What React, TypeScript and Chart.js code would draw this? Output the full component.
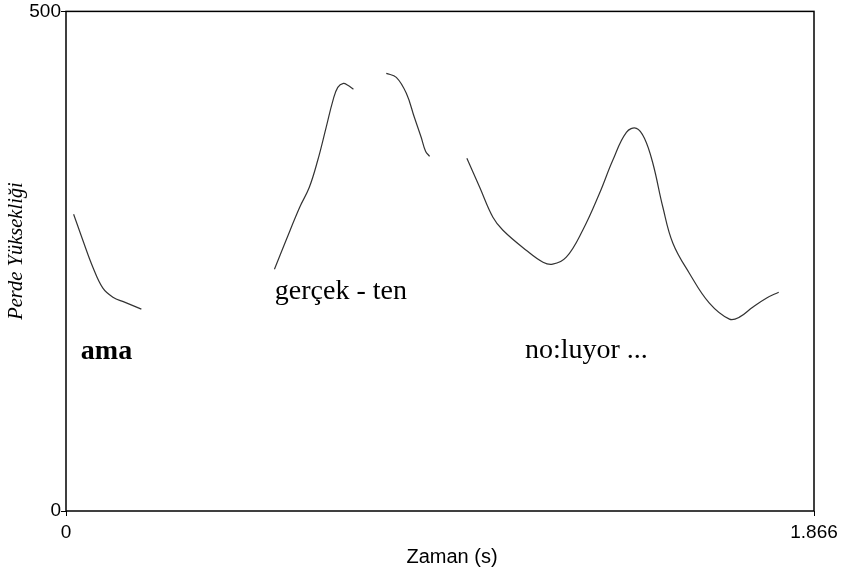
import React, { useEffect, useRef } from "react";
import { Chart, registerables } from "chart.js";

Chart.register(...registerables);

// Axis ranges and ticks
const X_MAX = 1.866;
const Y_MAX = 500;
const X_TICKS = [0, 1.866];
const Y_TICKS = [0, 500];

// Pitch contour segments (time in s, pitch in Hz)
const AMA_T = [0.019, 0.042, 0.067, 0.092, 0.117, 0.146, 0.188];
const AMA_HZ = [297, 271, 244, 223, 214, 209, 202];

const GERCEK_T = [0.520, 0.549, 0.583, 0.607, 0.628, 0.649, 0.666, 0.678, 0.692, 0.703, 0.717];
const GERCEK_HZ = [242, 271, 304, 324, 351, 384, 411, 424, 428, 426, 422];

const TEN_T = [0.799, 0.824, 0.849, 0.869, 0.886, 0.897, 0.907];
const TEN_HZ = [438, 434, 418, 394, 374, 360, 355];

const NOLUYOR_T = [1.000, 1.032, 1.065, 1.090, 1.148, 1.190, 1.214, 1.248, 1.289, 1.331, 1.364, 1.398, 1.423, 1.443, 1.464, 1.489, 1.514, 1.555, 1.605, 1.655, 1.680, 1.713, 1.747, 1.778];
const NOLUYOR_HZ = [353, 324, 294, 281, 261, 249, 247, 254, 281, 318, 351, 379, 383, 373, 348, 304, 268, 238, 208, 192, 194, 204, 213, 219];

// Annotations: [text, time (s), pitch (Hz), bold]
const WORD_LABELS: [string, number, number, boolean][] = [
  ["ama", 0.037, 152, true],
  ["gerçek - ten", 0.521, 212, false],
  ["no:luyor ...", 1.145, 153, false],
];

const X_TITLE = "Zaman (s)";
const Y_TITLE = "Perde Yüksekliği";

function toPoints(t: number[], hz: number[]) {
  return t.map((x, i) => ({ x, y: hz[i] }));
}

const overlayPlugin = {
  id: "overlay",
  afterDraw(chart: any) {
    const { ctx, chartArea, scales } = chart;
    const { left, right, top, bottom } = chartArea;
    ctx.save();
    // frame
    ctx.strokeStyle = "#000";
    ctx.lineWidth = 1.5;
    ctx.strokeRect(left, top, right - left, bottom - top);

    // word labels
    ctx.fillStyle = "#000";
    ctx.textAlign = "left";
    ctx.textBaseline = "alphabetic";
    for (const [text, t, hz, bold] of WORD_LABELS) {
      ctx.font = `${bold ? "bold " : ""}28px "Liberation Serif", "Times New Roman", serif`;
      ctx.fillText(text, scales.x.getPixelForValue(t), scales.y.getPixelForValue(hz));
    }

    // x title
    ctx.font = `20px "Liberation Sans", Arial, sans-serif`;
    ctx.textAlign = "center";
    ctx.fillText(X_TITLE, 452, 563);

    // y title
    ctx.translate(22, 251);
    ctx.rotate(-Math.PI / 2);
    ctx.font = `italic 20.5px "Liberation Serif", "Times New Roman", serif`;
    ctx.textAlign = "center";
    ctx.textBaseline = "alphabetic";
    ctx.fillText(Y_TITLE, 0, 0);
    ctx.restore();
  },
};

export default function App() {
  const ref = useRef<HTMLCanvasElement | null>(null);

  useEffect(() => {
    if (!ref.current) return;
    const lineStyle = {
      borderColor: "#333",
      borderWidth: 1.2,
      pointRadius: 0,
      fill: false,
      tension: 0.4,
    };
    const chart = new Chart(ref.current, {
      type: "line",
      data: {
        datasets: [
          { data: toPoints(AMA_T, AMA_HZ), ...lineStyle },
          { data: toPoints(GERCEK_T, GERCEK_HZ), ...lineStyle },
          { data: toPoints(TEN_T, TEN_HZ), ...lineStyle },
          { data: toPoints(NOLUYOR_T, NOLUYOR_HZ), ...lineStyle },
        ],
      },
      options: {
        animation: false,
        responsive: false,
        devicePixelRatio: 1,
        layout: { padding: { top: 11, right: 30, left: 0, bottom: 0 } },
        plugins: { legend: { display: false }, tooltip: { enabled: false } },
        scales: {
          x: {
            type: "linear",
            min: 0,
            max: X_MAX,
            afterBuildTicks: (s: any) => {
              s.ticks = X_TICKS.map((v) => ({ value: v }));
            },
            afterFit: (s: any) => {
              s.height = 61;
            },
            ticks: {
              color: "#000",
              font: { family: '"Liberation Sans", Arial, sans-serif', size: 19 },
              padding: 5,
              maxRotation: 0,
              autoSkip: false,
              callback: (v: any) => String(v),
            },
            grid: { drawOnChartArea: false, drawTicks: true, tickLength: 5, color: "#000", lineWidth: 1 },
            border: { display: false },
          },
          y: {
            type: "linear",
            min: 0,
            max: Y_MAX,
            afterBuildTicks: (s: any) => {
              s.ticks = Y_TICKS.map((v) => ({ value: v }));
            },
            afterFit: (s: any) => {
              s.width = 66;
            },
            ticks: {
              color: "#000",
              font: { family: '"Liberation Sans", Arial, sans-serif', size: 19 },
              padding: 0,
              autoSkip: false,
              callback: (v: any) => String(v),
            },
            grid: { drawOnChartArea: false, drawTicks: true, tickLength: 5, color: "#000", lineWidth: 1 },
            border: { display: false },
          },
        },
      },
      plugins: [overlayPlugin],
    });
    return () => chart.destroy();
  }, []);

  return (
    <div style={{ position: "fixed", left: 0, top: 0, width: 844, height: 572, background: "#fff" }}>
      <canvas ref={ref} width={844} height={572} />
    </div>
  );
}
